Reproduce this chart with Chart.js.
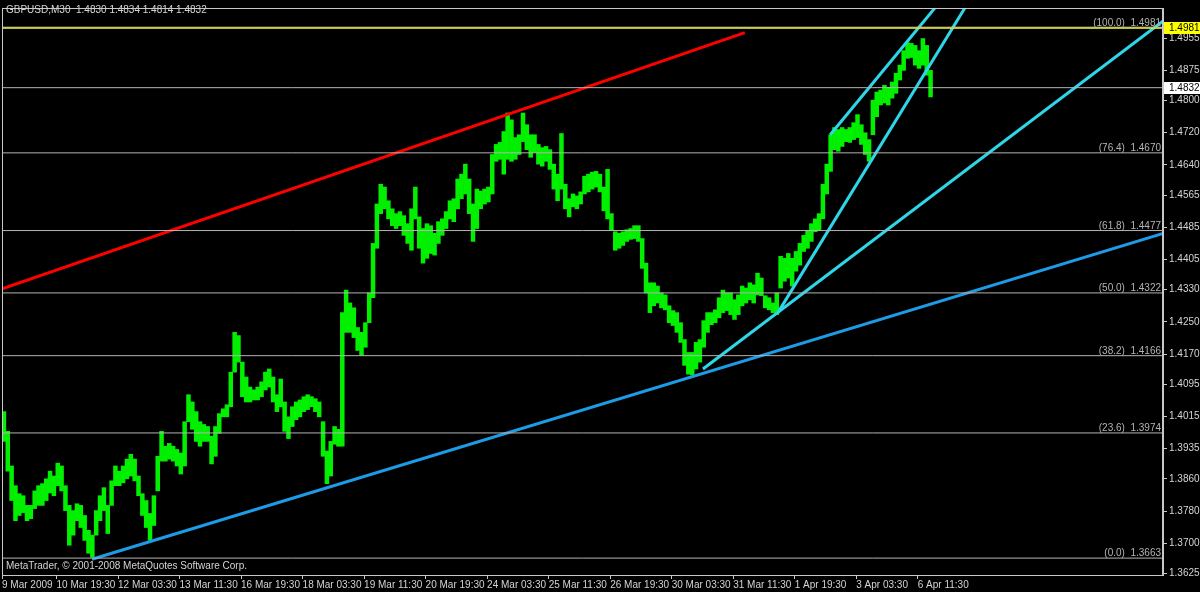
<!DOCTYPE html>
<html>
<head>
<meta charset="utf-8">
<script src="https://cdn.jsdelivr.net/npm/chart.js@4/dist/chart.umd.min.js"></script>
<style>
html, body { margin: 0; padding: 0; background: #000; }
canvas { display: block; }
</style>
</head>
<body>
<canvas id="myChart" width="1200" height="592"></canvas>
<script>
var symbolTitle = 'GBPUSD,M30  1.4830 1.4834 1.4814 1.4832';
var copyright = 'MetaTrader, \u00a9 2001-2008 MetaQuotes Software Corp.';

// one slot = 2 hours (4 x M30 bars), counted from the first bar on 9 Mar
var barHigh = [
    1.4027,1.3978,1.3892,1.3843,1.3823,1.3818,1.3794,1.3794,1.3830,1.3843,
    1.3848,1.3860,1.3879,1.3867,1.3899,1.3892,1.3843,1.3794,1.3781,1.3798,
    1.3794,1.3769,1.3732,1.3720,1.3781,1.3818,1.3838,1.3794,1.3855,1.3892,
    1.3879,1.3892,1.3909,1.3921,1.3909,1.3867,1.3823,1.3806,1.3774,1.3818,
    1.3916,1.3978,1.3941,1.3948,1.3941,1.3933,1.3924,1.4002,1.4069,1.4051,
    1.4027,1.4002,1.3995,1.3990,1.3966,1.3990,1.4022,1.4034,1.4044,1.4125,
    1.4224,1.4216,1.4150,1.4113,1.4088,1.4081,1.4088,1.4101,1.4125,1.4133,
    1.4113,1.4069,1.4108,1.4051,1.4014,1.4039,1.4051,1.4056,1.4064,1.4069,
    1.4064,1.4059,1.4051,1.4002,1.3929,1.3953,1.3990,1.3983,1.4273,1.4329,
    1.4297,1.4285,1.4236,1.4224,1.4248,1.4322,1.4445,1.4543,1.4592,1.4585,
    1.4551,1.4531,1.4519,1.4524,1.4514,1.4494,1.4531,1.4585,1.4511,1.4482,
    1.4494,1.4489,1.4470,1.4499,1.4506,1.4524,1.4551,1.4556,1.4605,1.4617,
    1.4642,1.4605,1.4543,1.4580,1.4575,1.4580,1.4585,1.4666,1.4691,1.4696,
    1.4723,1.4769,1.4752,1.4708,1.4715,1.4769,1.4740,1.4715,1.4715,1.4691,
    1.4683,1.4686,1.4678,1.4642,1.4617,1.4718,1.4592,1.4556,1.4568,1.4563,
    1.4573,1.4612,1.4617,1.4622,1.4624,1.4617,1.4585,1.4629,1.4519,1.4474,
    1.4470,1.4474,1.4479,1.4482,1.4489,1.4489,1.4457,1.4396,1.4347,1.4347,
    1.4339,1.4322,1.4317,1.4290,1.4278,1.4273,1.4248,1.4206,1.4174,1.4174,
    1.4199,1.4206,1.4253,1.4273,1.4273,1.4280,1.4310,1.4329,1.4322,1.4322,
    1.4305,1.4317,1.4339,1.4334,1.4347,1.4342,1.4371,1.4359,1.4315,1.4310,
    1.4297,1.4322,1.4413,1.4408,1.4420,1.4408,1.4425,1.4445,1.4465,1.4477,
    1.4494,1.4506,1.4519,1.4592,1.4642,1.4715,1.4733,1.4728,1.4733,1.4728,
    1.4733,1.4745,1.4765,1.4740,1.4720,1.4703,1.4801,1.4821,1.4826,1.4838,
    1.4833,1.4846,1.4868,1.4888,1.4924,1.4944,1.4942,1.4937,1.4924,1.4954,
    1.4937,1.4875
];
var barLow = [
    1.3953,1.3879,1.3806,1.3756,1.3769,1.3776,1.3756,1.3761,1.3786,1.3794,
    1.3794,1.3806,1.3825,1.3818,1.3843,1.3830,1.3781,1.3695,1.3720,1.3756,
    1.3739,1.3707,1.3675,1.3665,1.3720,1.3756,1.3781,1.3724,1.3794,1.3843,
    1.3843,1.3850,1.3860,1.3867,1.3855,1.3818,1.3769,1.3739,1.3707,1.3744,
    1.3830,1.3904,1.3904,1.3909,1.3904,1.3892,1.3872,1.3892,1.4002,1.3983,
    1.3953,1.3941,1.3953,1.3953,1.3897,1.3916,1.3973,1.4014,1.4014,1.4039,
    1.4125,1.4150,1.4064,1.4051,1.4051,1.4056,1.4056,1.4064,1.4081,1.4088,
    1.4051,1.4027,1.4039,1.3978,1.3960,1.3990,1.4007,1.4014,1.4027,1.4032,
    1.4039,1.4027,1.4014,1.3916,1.3848,1.3867,1.3946,1.3941,1.3941,1.4224,
    1.4224,1.4211,1.4179,1.4167,1.4187,1.4248,1.4310,1.4433,1.4519,1.4531,
    1.4506,1.4489,1.4482,1.4489,1.4465,1.4445,1.4428,1.4506,1.4433,1.4396,
    1.4408,1.4420,1.4416,1.4445,1.4465,1.4482,1.4506,1.4499,1.4531,1.4556,
    1.4568,1.4519,1.4450,1.4482,1.4531,1.4543,1.4548,1.4568,1.4649,1.4654,
    1.4617,1.4654,1.4649,1.4654,1.4666,1.4698,1.4678,1.4659,1.4671,1.4642,
    1.4637,1.4649,1.4629,1.4580,1.4551,1.4580,1.4531,1.4511,1.4536,1.4531,
    1.4543,1.4568,1.4573,1.4580,1.4585,1.4573,1.4526,1.4506,1.4477,1.4428,
    1.4433,1.4440,1.4450,1.4455,1.4457,1.4450,1.4383,1.4322,1.4273,1.4290,
    1.4297,1.4285,1.4280,1.4248,1.4241,1.4224,1.4199,1.4142,1.4120,1.4118,
    1.4133,1.4150,1.4187,1.4224,1.4243,1.4248,1.4260,1.4273,1.4278,1.4268,
    1.4256,1.4268,1.4290,1.4297,1.4305,1.4297,1.4317,1.4315,1.4285,1.4280,
    1.4273,1.4268,1.4334,1.4351,1.4359,1.4339,1.4376,1.4391,1.4425,1.4433,
    1.4450,1.4474,1.4477,1.4506,1.4568,1.4624,1.4678,1.4674,1.4686,1.4698,
    1.4696,1.4703,1.4708,1.4691,1.4666,1.4649,1.4715,1.4760,1.4789,1.4794,
    1.4789,1.4806,1.4818,1.4851,1.4875,1.4905,1.4907,1.4888,1.4880,1.4888,
    1.4863,1.4809
];

var xTickSlots = [-0.5, 13.67, 29.67, 45.67, 61.67, 77.67, 93.67, 109.67, 125.67,
    141.67, 157.67, 173.67, 189.67, 205.67, 221.67, 237.67];
var xTickLabels = ['9 Mar 2009', '10 Mar 19:30', '12 Mar 03:30', '13 Mar 11:30', '16 Mar 19:30',
    '18 Mar 03:30', '19 Mar 11:30', '20 Mar 19:30', '24 Mar 03:30', '25 Mar 11:30', '26 Mar 19:30',
    '30 Mar 03:30', '31 Mar 11:30', '1 Apr 19:30', '3 Apr 03:30', '6 Apr 11:30'];
var priceTicks = [1.4955, 1.4875, 1.4800, 1.4720, 1.4640, 1.4565, 1.4485, 1.4405, 1.4330,
    1.4250, 1.4170, 1.4095, 1.4015, 1.3935, 1.3860, 1.3780, 1.3700, 1.3625];

var fibLevels = ['100.0', '76.4', '61.8', '50.0', '38.2', '23.6', '0.0'];
var fibPrices = [1.4981, 1.4670, 1.4477, 1.4322, 1.4166, 1.3974, 1.3663];
var bidPrice = 1.4832;
var yellowPrice = 1.4981;

// trend lines: [slot start, price start, slot end, price end]
var redLine = [-0.5, 1.4332, 192.7, 1.4969];
var blueLine = [22.9, 1.3660, 301.5, 1.4470];
var cyanLines = [
    [181.8, 1.4133, 301.5, 1.4998],
    [201.3, 1.4273, 251.2, 1.5050],
    [214.9, 1.4715, 243.5, 1.5046]
];

var xMin = -0.5, xMax = 301.45;
var yMin = 1.3621, yMax = 1.5030;

var textColor = '#d4d4d4';
var frameColor = '#c8c8c8';
var fibColor = '#b4b4b4';
var fontFamily = '"Liberation Sans", Arial, sans-serif';

Chart.defaults.font.family = fontFamily;
Chart.defaults.font.size = 10;

function segment(l, color, width) {
    return {
        type: 'line',
        data: [{ x: l[0], y: l[1] }, { x: l[2], y: l[3] }],
        borderColor: color,
        borderWidth: width,
        pointRadius: 0,
        fill: false,
        tension: 0,
        order: 1
    };
}

var datasets = [];
datasets.push({
    type: 'bar',
    data: barHigh.map(function (h, i) { return { x: i, y: [barLow[i], h] }; }),
    backgroundColor: '#00f000',
    borderWidth: 0,
    barPercentage: 1,
    categoryPercentage: 1,
    order: 5
});
fibPrices.forEach(function (p) {
    datasets.push(segment([xMin, p, xMax, p], fibColor, 1));
});
datasets.push(segment([xMin, bidPrice, xMax, bidPrice], fibColor, 1));
datasets.push(segment([xMin, yellowPrice, xMax, yellowPrice], '#ffff00', 2));
datasets.push(segment(redLine, '#ff0000', 3));
datasets.push(segment(blueLine, '#1e9be6', 3));
cyanLines.forEach(function (l) {
    datasets.push(segment(l, '#2ed6e8', 3));
});

var overlayPlugin = {
    id: 'overlay',
    afterDraw: function (chart) {
        var ctx = chart.ctx;
        var a = chart.chartArea;
        var ys = chart.scales.y;
        ctx.save();
        // frame
        ctx.strokeStyle = frameColor;
        ctx.lineWidth = 1;
        ctx.strokeRect(a.left + 0.5, a.top + 0.5, a.right - a.left - 1, a.bottom - a.top);

        ctx.font = '10px ' + fontFamily;
        ctx.textBaseline = 'alphabetic';
        // fibo labels
        ctx.fillStyle = fibColor;
        ctx.textAlign = 'right';
        fibPrices.forEach(function (p, i) {
            var py = ys.getPixelForValue(p);
            ctx.fillText('(' + fibLevels[i] + ')  ' + p.toFixed(4), a.right - 2, py - 2);
        });

        // title and copyright
        ctx.fillStyle = textColor;
        ctx.textAlign = 'left';
        ctx.textBaseline = 'middle';
        ctx.fillText(symbolTitle, a.left + 4, 10);
        ctx.fillText(copyright, a.left + 4, 566);

        // price boxes on the axis
        [[yellowPrice, '#ffff00'], [bidPrice, '#ffffff']].forEach(function (b) {
            var py = Math.round(ys.getPixelForValue(b[0]));
            ctx.fillStyle = b[1];
            ctx.fillRect(a.right + 1, py - 6, 36, 12);
            ctx.fillStyle = '#000';
            ctx.fillText(b[0].toFixed(4), a.right + 6, py + 0.5);
        });
        ctx.restore();
    }
};

var ctx = document.getElementById('myChart').getContext('2d');
var chart = new Chart(ctx, {
    data: { datasets: datasets },
    plugins: [overlayPlugin],
    options: {
        responsive: false,
        animation: false,
        layout: { padding: { left: 2, top: 2, right: 0, bottom: 0 } },
        plugins: { legend: { display: false }, tooltip: { enabled: false } },
        scales: {
            x: {
                type: 'linear',
                offset: false,
                min: xMin,
                max: xMax,
                afterBuildTicks: function (s) {
                    s.ticks = xTickSlots.map(function (v) { return { value: v }; });
                },
                afterFit: function (s) { s.height = 17; },
                grid: { offset: false, drawOnChartArea: false, tickLength: 4, color: frameColor },
                border: { display: true, color: frameColor },
                ticks: {
                    align: 'start',
                    autoSkip: false,
                    maxRotation: 0,
                    padding: 0,
                    color: textColor,
                    font: { size: 10 },
                    callback: function (v, i) { return xTickLabels[i]; }
                }
            },
            y: {
                type: 'linear',
                position: 'right',
                min: yMin,
                max: yMax,
                afterBuildTicks: function (s) {
                    s.ticks = priceTicks.map(function (v) { return { value: v }; });
                },
                afterFit: function (s) { s.width = 37; },
                grid: { drawOnChartArea: false, tickLength: 4, color: frameColor },
                border: { display: true, color: frameColor },
                ticks: {
                    padding: 2,
                    color: textColor,
                    font: { size: 10 },
                    callback: function (v) { return v.toFixed(4); }
                }
            }
        }
    }
});
</script>
</body>
</html>
